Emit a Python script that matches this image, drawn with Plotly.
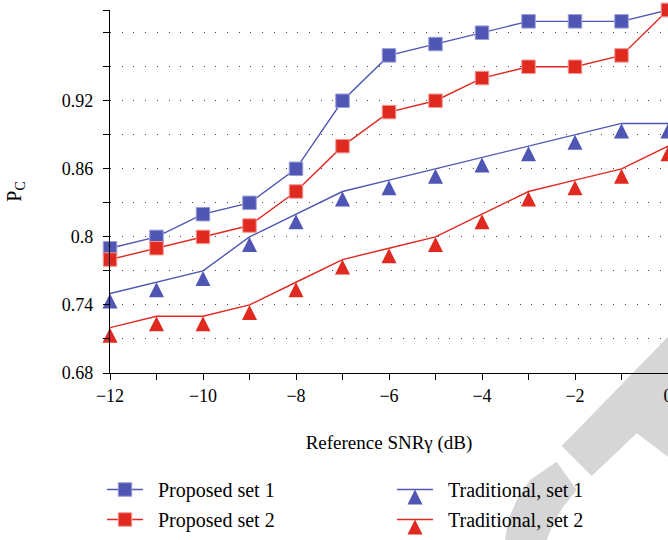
import plotly.graph_objects as go

# ---- data ----
snr_db = [-12, -11, -10, -9, -8, -7, -6, -5, -4, -3, -2, -1, 0]
proposed_set1 = [0.79, 0.80, 0.82, 0.83, 0.86, 0.92, 0.96, 0.97, 0.98, 0.99, 0.99, 0.99, 1.00]
proposed_set2 = [0.78, 0.79, 0.80, 0.81, 0.84, 0.88, 0.91, 0.92, 0.94, 0.95, 0.95, 0.96, 1.00]
traditional_set1 = [0.75, 0.76, 0.77, 0.80, 0.82, 0.84, 0.85, 0.86, 0.87, 0.88, 0.89, 0.90, 0.90]
traditional_set2 = [0.72, 0.73, 0.73, 0.74, 0.76, 0.78, 0.79, 0.80, 0.82, 0.84, 0.85, 0.86, 0.88]

x_major_vals = [-12, -10, -8, -6, -4, -2, 0]
x_major_labels = ["−12", "−10", "−8", "−6", "−4", "−2", "0"]
x_minor_vals = [-11, -9, -7, -5, -3, -1]
y_major_vals = [0.68, 0.74, 0.80, 0.86, 0.92]
y_major_labels = ["0.68", "0.74", "0.8", "0.86", "0.92"]
y_minor_vals = [0.71, 0.77, 0.83, 0.89, 0.95, 0.98, 1.00]

BLUE = "#4f56b4"
RED = "#e02a20"
FONT = "Liberation Serif"
NB = "\u00a0\u00a0"

W, H = 668, 540
ML, MR, MT, MB = 110, 0, 10, 167
PW, PH = W - ML - MR, H - MT - MB


def to_paper(px, py):
    return (px - ML) / PW, (H - MB - py) / PH


def path_from(points):
    pts = [to_paper(x, y) for x, y in points]
    return "M " + " L ".join(f"{a:.4f},{b:.4f}" for a, b in pts) + " Z"


fig = go.Figure()

fig.add_trace(go.Scatter(
    x=snr_db, y=proposed_set1, name=NB + "Proposed set 1", mode="lines+markers",
    line=dict(color=BLUE, width=1.4),
    marker=dict(symbol="square", size=13.5, color=BLUE, line=dict(color="#9a9ed6", width=1)),
    cliponaxis=False, legend="legend", legendgroup="a",
))
fig.add_trace(go.Scatter(
    x=snr_db, y=proposed_set2, name=NB + "Proposed set 2", mode="lines+markers",
    line=dict(color=RED, width=1.4),
    marker=dict(symbol="square", size=13.5, color=RED, line=dict(color="#f29a94", width=1)),
    cliponaxis=False, legend="legend", legendgroup="b",
))
fig.add_trace(go.Scatter(
    x=snr_db, y=traditional_set1, name=NB + "Traditional, set 1", mode="lines+markers",
    line=dict(color=BLUE, width=1.4, backoff=0),
    marker=dict(symbol="arrow-up", size=15, color=BLUE, line=dict(width=0)),
    cliponaxis=False, legend="legend2", legendgroup="c",
))
fig.add_trace(go.Scatter(
    x=snr_db, y=traditional_set2, name=NB + "Traditional, set 2", mode="lines+markers",
    line=dict(color=RED, width=1.4, backoff=0),
    marker=dict(symbol="arrow-up", size=15, color=RED, line=dict(width=0)),
    cliponaxis=False, legend="legend2", legendgroup="d",
))

# watermark-like grey band (decoration)
wm_upper = [(668, 336.7), (561.7, 446), (591.7, 476), (636.7, 433.3), (668, 456.7)]
wm_lower = [(556.7, 461.7), (530, 480), (516.7, 500), (508.3, 520), (505, 540),
            (546.7, 540), (553.3, 523.3), (563.3, 506.7), (576.7, 490)]
shapes = []
for poly in (wm_upper, wm_lower):
    shapes.append(dict(type="path", xref="paper", yref="paper", path=path_from(poly),
                       fillcolor="#d6d6d6", line=dict(width=0), layer="below"))

lx1, ly = to_paper(102, 470)
lx2, _ = to_paper(392, 470)
legend_common = dict(
    font=dict(family=FONT, size=20, color="black"),
    bgcolor="rgba(0,0,0,0)", borderwidth=0,
    xanchor="left", yanchor="top", orientation="v",
    itemwidth=36, tracegroupgap=1,
)

axis_common = dict(
    tickmode="array", ticks="outside", ticklen=6, tickwidth=1, tickcolor="black",
    showline=True, linecolor="black", linewidth=1.3, zeroline=False,
    tickfont=dict(family=FONT, size=18), ticklabeloverflow="allow",
    automargin=False,
)

fig.update_layout(
    width=W, height=H,
    margin=dict(l=ML, r=MR, t=MT, b=MB, autoexpand=False),
    paper_bgcolor="white", plot_bgcolor="rgba(0,0,0,0)",
    font=dict(family=FONT, size=18, color="black"),
    showlegend=True,
    legend=dict(x=lx1, y=ly, **legend_common),
    legend2=dict(x=lx2, y=ly, **legend_common),
    shapes=shapes,
    xaxis=dict(
        range=[-12, 0], tickvals=x_major_vals, ticktext=x_major_labels,
        showgrid=False,
        minor=dict(tickmode="array", tickvals=x_minor_vals, ticks="outside", ticklen=6,
                   tickwidth=1, tickcolor="black", showgrid=False),
        title=dict(text="Reference SNRγ (dB)", font=dict(family=FONT, size=19), standoff=30),
        **axis_common,
    ),
    yaxis=dict(
        range=[0.68, 1.0], tickvals=y_major_vals, ticktext=y_major_labels,
        showgrid=True, gridcolor="#444444", gridwidth=1, griddash="1px,10.7px",
        ticklabelstandoff=6,
        minor=dict(tickmode="array", tickvals=y_minor_vals, ticks="outside", ticklen=6,
                   tickwidth=1, tickcolor="black", showgrid=True, gridcolor="#444444",
                   gridwidth=1, griddash="1px,10.7px"),
        title=dict(text="P<sub>C</sub>", font=dict(family=FONT, size=20), standoff=34),
        **axis_common,
    ),
)

fig.write_html("out.html", config={"displayModeBar": False},
               post_script="document.body.style.margin='0';")
